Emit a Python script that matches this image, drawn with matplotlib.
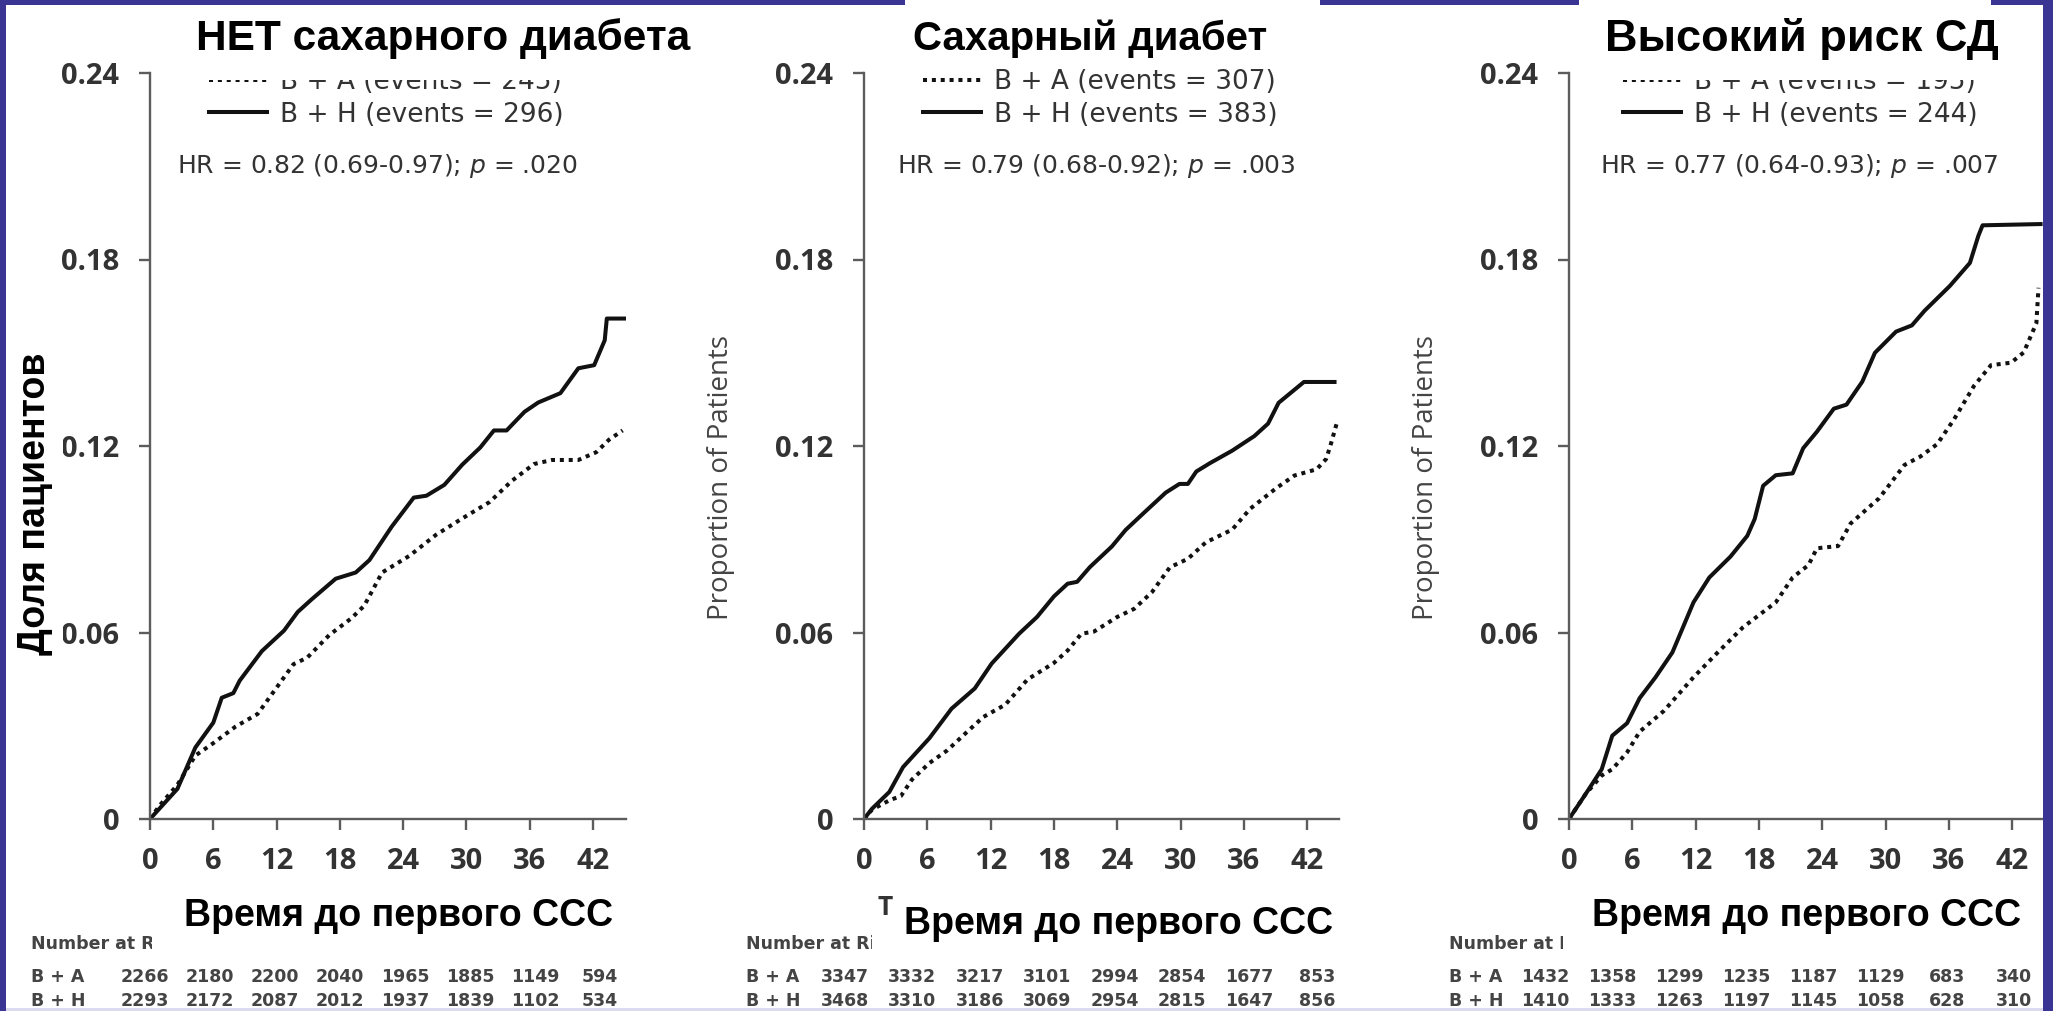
import matplotlib
matplotlib.use("Agg")
import matplotlib.pyplot as plt
from matplotlib.patches import Rectangle
from matplotlib.font_manager import FontProperties

FIG_W, FIG_H, DPI = 2053, 1011, 100

# ---------------------------------------------------------------- data
month_ticks = [0, 6, 12, 18, 24, 30, 36, 42]
prop_ticks = [0, 0.06, 0.12, 0.18, 0.24]
prop_tick_labels = ["0", "0.06", "0.12", "0.18", "0.24"]

panel_titles = ["НЕТ сахарного диабета", "Сахарный диабет", "Высокий риск СД"]
x_title_ru = "Время до первого ССС"
y_title_ru = "Доля пациентов"
y_title_en = "Proportion of Patients"
x_title_en = "Time to First CV Event (months)"
group_names = ["B + A", "B + H"]

# No diabetes
nodm_t_ba = [0, 0.9, 2.6, 4.3, 6.0, 8.1, 10.2, 11.9, 13.6, 14.9, 17.0, 19.1, 20.3,
             22.0, 24.6, 27.1, 29.6, 32.2, 34.3, 36.4, 38.1, 40.6, 42.3, 43.5, 44.8]
nodm_ba = [0, 0.0043, 0.011, 0.0204, 0.0244, 0.0297, 0.0338, 0.0418, 0.0498, 0.0519,
           0.0592, 0.0646, 0.0686, 0.0793, 0.0847, 0.0914, 0.0967, 0.102, 0.1088,
           0.1142, 0.1155, 0.1155, 0.118, 0.122, 0.125]
nodm_t_bh = [0, 2.6, 4.3, 6.0, 6.8, 7.9, 8.5, 10.6, 12.7, 14.0, 15.3, 17.6, 19.5, 20.8,
             22.9, 25.0, 26.2, 27.9, 29.6, 31.3, 32.6, 33.8, 35.5, 36.8, 38.9, 40.6,
             42.1, 43.1, 43.3, 45.1]
nodm_bh = [0, 0.0097, 0.023, 0.031, 0.039, 0.0405, 0.0445, 0.054, 0.0606, 0.0666,
           0.0706, 0.0773, 0.0793, 0.0833, 0.094, 0.1034, 0.104, 0.1075, 0.114, 0.1195,
           0.125, 0.125, 0.131, 0.134, 0.137, 0.145, 0.146, 0.154, 0.161, 0.161]

# Diabetes
dm_t_ba = [0, 0.76, 2.4, 3.5, 4.55, 6.2, 7.9, 9.6, 11.3, 13.4, 15.5, 18.0, 19.3, 20.6,
           21.8, 24.0, 25.6, 27.3, 29.0, 30.7, 32.4, 34.9, 36.6, 39.1, 40.8, 42.9,
           43.8, 44.2, 44.8]
dm_ba = [0, 0.003, 0.006, 0.0074, 0.0127, 0.018, 0.0221, 0.0275, 0.0328, 0.0368,
         0.0449, 0.0502, 0.0542, 0.0596, 0.0603, 0.065, 0.0676, 0.073, 0.081, 0.0837,
         0.089, 0.0931, 0.0998, 0.1065, 0.1105, 0.1125, 0.1158, 0.12, 0.1272]
dm_t_bh = [0, 0.76, 2.4, 3.7, 6.2, 8.3, 10.5, 12.1, 14.7, 16.4, 18.0, 19.3, 20.2, 21.4,
           23.5, 24.8, 26.5, 28.6, 29.9, 30.7, 31.5, 32.8, 34.9, 37.0, 38.3, 39.3,
           41.7, 44.6]
dm_bh = [0, 0.0033, 0.0087, 0.0167, 0.026, 0.0355, 0.042, 0.050, 0.0596, 0.065, 0.0716,
         0.0757, 0.0763, 0.081, 0.0877, 0.093, 0.0984, 0.105, 0.1078, 0.1078, 0.1118,
         0.1145, 0.1185, 0.1232, 0.1272, 0.1339, 0.1406, 0.1406]

# High diabetes risk
hr_t_ba = [0, 1.57, 3.1, 4.1, 5.5, 6.7, 9.0, 11.8, 14.1, 16.5, 19.6, 21.2, 22.7, 23.5,
           25.5, 26.7, 29.4, 31.8, 33.3, 34.9, 36.5, 38.4, 40.0, 41.9, 43.1, 44.3, 44.5]
hr_ba = [0, 0.008, 0.014, 0.016, 0.0214, 0.0281, 0.0348, 0.0456, 0.0536, 0.0617,
         0.0697, 0.0777, 0.0817, 0.0871, 0.0878, 0.0951, 0.1032, 0.1139, 0.1166,
         0.1206, 0.1286, 0.1394, 0.146, 0.1468, 0.1501, 0.1595, 0.1709]
hr_t_bh = [0, 1.57, 3.1, 4.1, 5.5, 6.7, 8.2, 9.8, 11.8, 13.3, 15.3, 16.9, 17.6, 18.4,
           19.6, 21.2, 22.2, 23.5, 25.1, 26.3, 27.8, 29.0, 31.0, 32.5, 33.7, 36.1,
           38.0, 38.8, 39.2, 44.7]
hr_bh = [0, 0.008, 0.016, 0.0268, 0.0308, 0.0389, 0.0456, 0.0536, 0.0697, 0.0777,
         0.0844, 0.0911, 0.0965, 0.1072, 0.1106, 0.1112, 0.1193, 0.1246, 0.132, 0.1333,
         0.1407, 0.15, 0.1568, 0.1588, 0.1635, 0.1715, 0.1789, 0.1876, 0.191, 0.1914]

events_ba = [245, 307, 195]
events_bh = [296, 383, 244]
hazard_ratios = ["0.82 (0.69-0.97)", "0.79 (0.68-0.92)", "0.77 (0.64-0.93)"]
p_values = [".020", ".003", ".007"]

nodm_risk_ba = [2266, 2180, 2200, 2040, 1965, 1885, 1149, 594]
nodm_risk_bh = [2293, 2172, 2087, 2012, 1937, 1839, 1102, 534]
dm_risk_ba = [3347, 3332, 3217, 3101, 2994, 2854, 1677, 853]
dm_risk_bh = [3468, 3310, 3186, 3069, 2954, 2815, 1647, 856]
hr_risk_ba = [1432, 1358, 1299, 1235, 1187, 1129, 683, 340]
hr_risk_bh = [1410, 1333, 1263, 1197, 1145, 1058, 628, 310]

curves = [
    ((nodm_t_ba, nodm_ba), (nodm_t_bh, nodm_bh)),
    ((dm_t_ba, dm_ba), (dm_t_bh, dm_bh)),
    ((hr_t_ba, hr_ba), (hr_t_bh, hr_bh)),
]
risk_tables = [
    (nodm_risk_ba, nodm_risk_bh),
    (dm_risk_ba, dm_risk_bh),
    (hr_risk_ba, hr_risk_bh),
]

# ---------------------------------------------------------------- layout (pixels)
PX_PER_MONTH = 63.3 / 6
Y_ZERO_PX, Y_TOP_PX = 819, 73
panel_x0 = [150, 864, 1569]
panel_xmax = [45.1, 45.0, 45.6]
legend_x = [209, 923, 1623]
hr_text_x = [177, 897, 1600]
title_cx = [443, 1090, 1802]
title_size = [30.5, 29, 32.5]
title_boxes = [(186, 6, 700, 80), (905, 0, 1320, 60), (1579, 0, 1991, 80)]
xru_cx = [399, 1119, 1807]
xru_cy = [916, 924, 916]
# each caption patch may be made of several rectangles
xru_boxes = [
    [(152, 885, 640, 952)],
    [(893, 892, 1345, 930), (872, 928, 1345, 955)],
    [(1563, 885, 2040, 952)],
]
risk_label_x = [31, 746, 1449]
risk_first_x = [145, 845, 1545]
risk_step = [65.0, 67.4, 67.0]

AXIS_GREY = "#5c5c5c"
TEXT_GREY = "#333333"
INK = "#111111"
FRAME = "#3a3492"


def fx(px):
    return px / FIG_W


def fy(py):
    return 1 - py / FIG_H


fig = plt.figure(figsize=(FIG_W / DPI, FIG_H / DPI), dpi=DPI)
fig.patch.set_facecolor("white")

tick_font = FontProperties(family="Open Sans", weight="bold", size=21)
legend_font = FontProperties(family="DejaVu Sans", size=19)
hr_font = FontProperties(family="DejaVu Sans", size=18)
risk_font = FontProperties(family="DejaVu Sans", weight="bold", size=12.5)
overlay_font = dict(family="Liberation Sans", weight="bold", color="black")

for i in range(3):
    x0 = panel_x0[i]
    width_px = panel_xmax[i] * PX_PER_MONTH
    ax = fig.add_axes([fx(x0), fy(Y_ZERO_PX), width_px / FIG_W,
                       (Y_ZERO_PX - Y_TOP_PX) / FIG_H])
    ax.set_facecolor("none")
    (t_ba, v_ba), (t_bh, v_bh) = curves[i]
    ax.plot(t_ba, v_ba, color=INK, lw=2.9, linestyle=(0, (1.0, 1.2)),
            dash_capstyle="butt", label=f"{group_names[0]} (events = {events_ba[i]})")
    ax.plot(t_bh, v_bh, color=INK, lw=2.9, solid_joinstyle="round",
            label=f"{group_names[1]} (events = {events_bh[i]})")

    ax.set_xlim(0, panel_xmax[i])
    ax.set_ylim(0, 0.24)
    for side in ("top", "right"):
        ax.spines[side].set_visible(False)
    for side in ("left", "bottom"):
        ax.spines[side].set_color(AXIS_GREY)
        ax.spines[side].set_linewidth(1.7)
    ax.set_xticks(month_ticks)
    ax.set_xticklabels([str(m) for m in month_ticks])
    ax.set_yticks(prop_ticks)
    ax.set_yticklabels(prop_tick_labels)
    ax.tick_params(length=8, width=1.7, color=AXIS_GREY, labelcolor=TEXT_GREY)
    ax.tick_params(axis="x", pad=12)
    ax.tick_params(axis="y", pad=14)
    for lab in ax.get_xticklabels() + ax.get_yticklabels():
        lab.set_fontproperties(tick_font)

    if i > 0:
        # the first panel carries the Russian axis caption instead
        ax.set_ylabel(y_title_en, family="Open Sans", fontsize=20, color="#444444")
        ax.yaxis.set_label_coords(-129 / width_px,
                                  (Y_ZERO_PX - 478) / (Y_ZERO_PX - Y_TOP_PX))
    if i == 1:
        fig.text(fx(x0 + 14), fy(907), x_title_en, ha="left", va="center",
                 family="Open Sans", weight="bold", fontsize=19, color=TEXT_GREY)

    ax.legend(loc="upper left", bbox_to_anchor=(fx(legend_x[i]), fy(69)),
              bbox_transform=fig.transFigure, frameon=False, prop=legend_font,
              handlelength=2.2, handletextpad=0.5, labelspacing=0.25,
              borderpad=0, borderaxespad=0, labelcolor=TEXT_GREY)

    fig.text(fx(hr_text_x[i]), fy(166),
             f"HR = {hazard_ratios[i]}; $\\mathit{{p}}$ = {p_values[i]}",
             ha="left", va="center", fontproperties=hr_font, color=TEXT_GREY)

    # number-at-risk table
    fig.text(fx(risk_label_x[i]), fy(944), "Number at Risk", ha="left", va="center",
             fontproperties=risk_font, color="#444444")
    for row, (name, values) in enumerate(zip(group_names, risk_tables[i])):
        yy = 977 + row * 24
        fig.text(fx(risk_label_x[i]), fy(yy), name, ha="left", va="center",
                 fontproperties=risk_font, color="#444444")
        for k, n in enumerate(values):
            fig.text(fx(risk_first_x[i] + k * risk_step[i]), fy(yy), str(n),
                     ha="center", va="center", fontproperties=risk_font, color="#444444")

# ---------------------------------------------------------------- slide overlays
def box(x1, y1, x2, y2, color="white", z=6):
    fig.add_artist(Rectangle((fx(x1), fy(y2)), (x2 - x1) / FIG_W, (y2 - y1) / FIG_H,
                             transform=fig.transFigure, facecolor=color,
                             edgecolor="none", zorder=z))


# slide frame
for part in [(0, 0, FIG_W, 5), (0, 0, 6, FIG_H), (FIG_W - 10, 0, FIG_W, FIG_H)]:
    box(*part, color=FRAME, z=5)
box(6, FIG_H - 3, FIG_W - 10, FIG_H, color="#dcdaee", z=5)

for i in range(3):
    box(*title_boxes[i])
    fig.text(fx(title_cx[i]), fy(39), panel_titles[i], ha="center", va="center",
             fontsize=title_size[i], zorder=7, **overlay_font)
    for rect in xru_boxes[i]:
        box(*rect)
    fig.text(fx(xru_cx[i]), fy(xru_cy[i]), x_title_ru, ha="center", va="center",
             fontsize=27, zorder=7, **overlay_font)

box(6, 343, 63, 661)
fig.text(fx(35), fy(504), y_title_ru, ha="center", va="center", rotation=90,
         fontsize=27, zorder=7, **overlay_font)

fig.savefig("out.png", dpi=DPI)
